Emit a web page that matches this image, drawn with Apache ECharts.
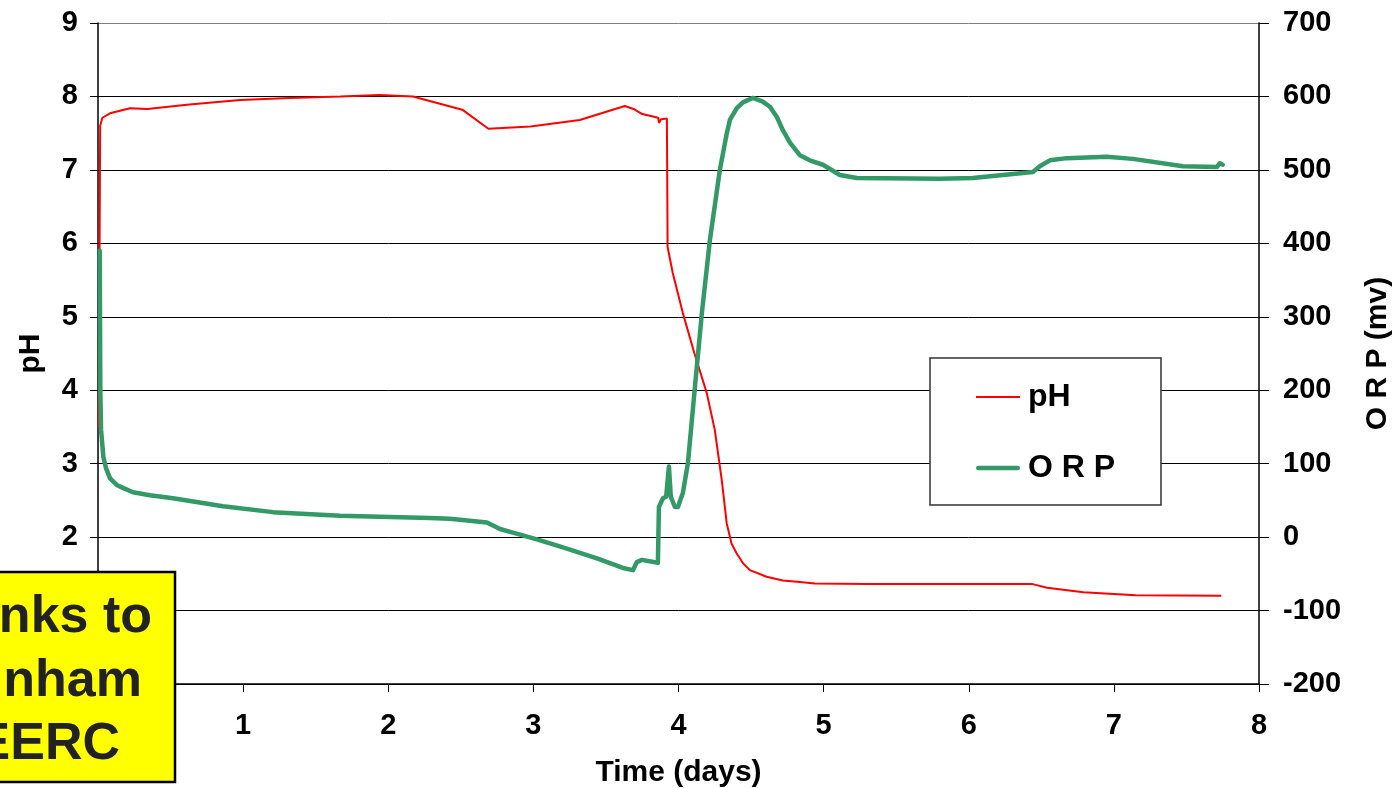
<!DOCTYPE html>
<html>
<head>
<meta charset="utf-8">
<script src="https://cdn.jsdelivr.net/npm/echarts@6/dist/echarts.min.js"></script>
<style>
html,body{margin:0;padding:0;background:#fff;overflow:hidden;width:1392px;height:788px;}
#chart{width:1392px;height:788px;display:block;}
</style>
</head>
<body>
<div id="chart"></div>
<script>
// ---- Data ----
const phDays = [0.005, 0.010, 0.015, 0.030, 0.083, 0.22, 0.34, 0.63, 0.98, 1.32, 1.67, 1.94, 2.17, 2.51, 2.69, 2.98, 3.32, 3.63, 3.69, 3.75, 3.86, 3.865, 3.88, 3.92, 3.925, 3.96, 4.03, 4.11, 4.195, 4.250, 4.298, 4.332, 4.366, 4.400, 4.446, 4.492, 4.607, 4.719, 4.836, 4.940, 5.312, 6.44, 6.54, 6.79, 7.15, 7.74];
const phValues = [3.5, 5.6, 7.6, 7.71, 7.77, 7.84, 7.83, 7.89, 7.95, 7.98, 8.0, 8.02, 8.0, 7.82, 7.56, 7.59, 7.68, 7.87, 7.83, 7.76, 7.71, 7.64, 7.69, 7.70, 5.95, 5.6, 5.05, 4.5, 3.96, 3.46, 2.78, 2.19, 1.91, 1.78, 1.64, 1.55, 1.46, 1.41, 1.39, 1.37, 1.36, 1.36, 1.31, 1.25, 1.21, 1.2];

const orpDays = [0.012, 0.016, 0.021, 0.037, 0.055, 0.083, 0.129, 0.172, 0.241, 0.358, 0.517, 0.861, 1.206, 1.667, 2.287, 2.425, 2.68, 2.77, 2.859, 3.024, 3.204, 3.438, 3.617, 3.686, 3.713, 3.748, 3.858, 3.865, 3.893, 3.915, 3.934, 3.947, 3.975, 3.996, 4.030, 4.065, 4.113, 4.161, 4.216, 4.285, 4.333, 4.354, 4.402, 4.444, 4.513, 4.581, 4.630, 4.678, 4.719, 4.768, 4.836, 4.905, 4.995, 5.112, 5.229, 5.801, 6.028, 6.442, 6.490, 6.559, 6.676, 6.951, 7.131, 7.475, 7.709, 7.730, 7.75];
const orpValues = [390, 200, 146, 109, 94, 80, 71, 67, 61, 57, 53, 42, 34, 29, 26, 25, 20, 11, 6, -3, -14, -29, -42, -45, -34, -31, -35, 41, 53, 55, 96, 55, 41, 41, 60, 101, 204, 305, 404, 500, 550, 568, 584, 592, 598, 593, 586, 572, 554, 537, 520, 513, 507, 493, 489, 488, 489, 497, 505, 513, 516, 518, 515, 505, 504, 509, 507];

const seriesNames = ['pH', 'O R P'];
const noteLines = ['Thanks to', 'nham', 'EERC'];

const phData = phDays.map((d, i) => [d, phValues[i]]);
const orpData = orpDays.map((d, i) => [d, orpValues[i]]);

const FONT = '"Liberation Sans", Arial, sans-serif';
const chart = echarts.init(document.getElementById('chart'), null, {renderer: 'canvas', width: 1392, height: 788});

const gridColors = ['#000','#000','#000','#000','#000','#000','#000','#000','#000','#808080'];

chart.setOption({
  animation: false,
  backgroundColor: '#fff',
  grid: {left: 98, right: 133, top: 23, bottom: 104, containLabel: false, outerBoundsMode: 'none'},
  xAxis: {
    type: 'value', min: 0, max: 8, interval: 1,
    name: 'Time (days)', nameLocation: 'middle', nameGap: 74,
    nameTextStyle: {fontFamily: FONT, fontWeight: 'bold', fontSize: 30, color: '#000'},
    axisLine: {show: true, lineStyle: {color: '#000', width: 1.5}},
    axisTick: {show: true, inside: false, length: 8, lineStyle: {color: '#000', width: 1}},
    axisLabel: {fontFamily: FONT, fontWeight: 'bold', fontSize: 29, color: '#000', margin: 27},
    splitLine: {show: false}
  },
  yAxis: [{
    type: 'value', min: 0, max: 9, interval: 1, position: 'left',
    name: 'pH', nameLocation: 'middle', nameGap: 52, nameRotate: 90,
    nameTextStyle: {fontFamily: FONT, fontWeight: 'bold', fontSize: 30, color: '#000'},
    axisLine: {show: true, lineStyle: {color: '#000', width: 1.5}},
    axisTick: {show: true, inside: false, length: 8, lineStyle: {color: '#000', width: 1}},
    axisLabel: {fontFamily: FONT, fontWeight: 'bold', fontSize: 29, color: '#000', margin: 20},
    splitLine: {show: true, lineStyle: {color: gridColors, width: 1}}
  }, {
    type: 'value', min: -200, max: 700, interval: 100, position: 'right',
    name: 'O R P (mv)', nameLocation: 'middle', nameGap: 104, nameRotate: 90,
    nameTextStyle: {fontFamily: FONT, fontWeight: 'bold', fontSize: 30, color: '#000'},
    axisLine: {show: true, lineStyle: {color: '#000', width: 1.5}},
    axisTick: {show: true, inside: false, length: 10, lineStyle: {color: '#000', width: 1}},
    axisLabel: {fontFamily: FONT, fontWeight: 'bold', fontSize: 29, color: '#000', margin: 24},
    splitLine: {show: false}
  }],
  legend: {
    orient: 'vertical', left: 976, top: 380, padding: 0,
    itemWidth: 44, itemHeight: 14, itemGap: 37,
    data: [
      {name: seriesNames[0], icon: 'path://M0,0 L44,0 L44,2 L0,2 Z'},
      {name: seriesNames[1], icon: 'path://M2,0 L42,0 A2.25,2.25 0 0 1 42,4.5 L2,4.5 A2.25,2.25 0 0 1 2,0 Z'}
    ],
    textStyle: {fontFamily: FONT, fontWeight: 'bold', fontSize: 32, lineHeight: 34, color: '#000', padding: [0,0,0,3]}
  },
  series: [{
    name: seriesNames[0], type: 'line', yAxisIndex: 0, data: phData,
    symbol: 'none', smooth: false, z: 2,
    lineStyle: {color: '#FF0000', width: 2},
    itemStyle: {color: '#FF0000'}
  }, {
    name: seriesNames[1], type: 'line', yAxisIndex: 1, data: orpData,
    symbol: 'none', smooth: false, z: 2,
    lineStyle: {color: '#339966', width: 4.5, cap: 'round', join: 'round'},
    itemStyle: {color: '#339966'}
  }],
  graphic: [
    {type: 'rect', z: 3, shape: {x: 930, y: 358, width: 231, height: 147},
     style: {fill: '#fff', stroke: '#333', lineWidth: 1.5}},
    {type: 'rect', z: 100, shape: {x: -60, y: 572, width: 235, height: 210},
     style: {fill: '#FFFF00', stroke: '#000', lineWidth: 2.5}},
    {type: 'text', z: 101, x: 152, y: 618,
     style: {text: noteLines[0], fontFamily: FONT, fontWeight: 'bold', fontSize: 52, fill: '#222', align: 'right', verticalAlign: 'middle'}},
    {type: 'text', z: 101, x: 142, y: 682,
     style: {text: noteLines[1], fontFamily: FONT, fontWeight: 'bold', fontSize: 52, fill: '#222', align: 'right', verticalAlign: 'middle'}},
    {type: 'text', z: 101, x: 120, y: 745,
     style: {text: noteLines[2], fontFamily: FONT, fontWeight: 'bold', fontSize: 52, fill: '#222', align: 'right', verticalAlign: 'middle'}}
  ]
});
</script>
</body>
</html>
